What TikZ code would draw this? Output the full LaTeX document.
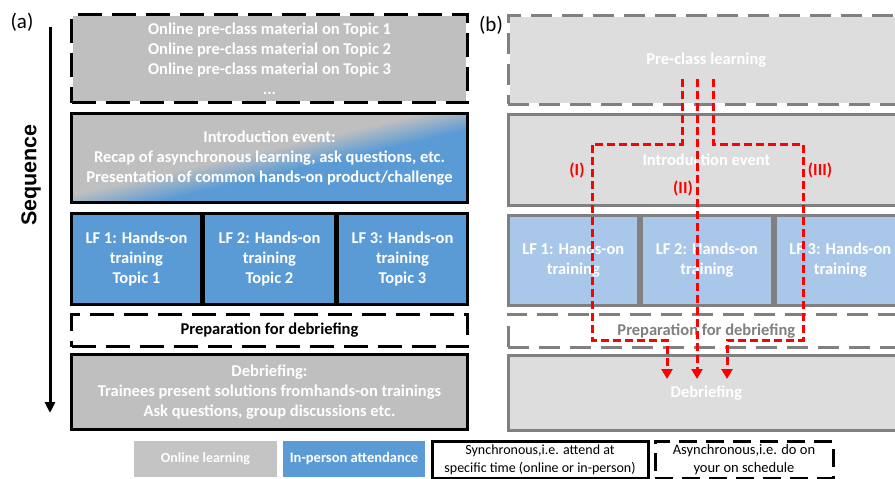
\documentclass[tikz,border=0pt]{standalone}
\usepackage{fontspec}
\setmainfont{Carlito}
\newfontfamily\seqfont{Liberation Sans}
\usetikzlibrary{arrows.meta}

\definecolor{agrey}{RGB}{191,191,191}
\definecolor{ablue}{RGB}{91,155,213}
\definecolor{bgrey}{RGB}{221,221,221}
\definecolor{bline}{RGB}{128,128,128}
\definecolor{bblue}{RGB}{169,199,232}
\definecolor{lgrey}{RGB}{196,196,196}
\definecolor{pathred}{RGB}{255,0,0}

\tikzset{
  boxtext/.style={font=\bfseries\fontsize{16.5}{20}\selectfont, align=center, text=white},
  abox/.style={draw=black, line width=3pt, inner sep=0pt, anchor=north west, boxtext},
  bbox/.style={draw=bline, line width=2.7pt, inner sep=0pt, anchor=north west, boxtext},
  dashbox/.style={preaction={fill=#1, draw=white, solid}, dash pattern=on 24pt off 10pt},
  redline/.style={draw=pathred, line width=3pt, dash pattern=on 8pt off 4pt,
    -{Triangle[length=10pt,width=11pt]}},
  redlabel/.style={font=\bfseries\fontsize{17}{19}\selectfont, text=pathred},
  legtext/.style={font=\fontsize{14}{18}\selectfont, align=center, inner sep=0pt},
  panellabel/.style={font=\fontsize{21}{24}\selectfont, inner sep=0pt}
}

\begin{document}
\begin{tikzpicture}[x=1pt, y=-1pt]
\useasboundingbox (0,0) rectangle (895,479);
\fill[white] (0,0) rectangle (895,479);

% ---------- panel (a) ----------
\node[panellabel] (la) at (22,22) {(a)};

\coordinate (seqtop) at (50,27);
\coordinate (seqbot) at (50,413);
\draw[line width=3pt, -{Triangle[length=11pt,width=10pt]}] (seqtop) -- (seqbot);
\node[font=\seqfont\bfseries\fontsize{21.5}{24}\selectfont, rotate=90, inner sep=0pt] (seq) at (31,175) {Sequence};

\node[abox, dashbox=agrey, minimum width=396, minimum height=88] (apre) at (70,13)
  {Online pre-class material on Topic 1\\Online pre-class material on Topic 2\\Online pre-class material on Topic 3\\...};

% diagonal grey-to-blue fill of the introduction event
\begin{scope}
  \clip (70,112) rectangle (466,201);
  \begin{scope}[transform canvas={shift={(270pt,-162pt)}, rotate=13}]
    \fill[agrey] (-300pt,0pt) rectangle (300pt,150pt);
    \fill[ablue] (-300pt,-150pt) rectangle (300pt,0pt);
    \shade[top color=agrey, bottom color=ablue] (-300pt,-13pt) rectangle (300pt,13pt);
  \end{scope}
\end{scope}
\node[abox, minimum width=396, minimum height=89] (aintro) at (70,112)
  {Introduction event:\\Recap of asynchronous learning, ask questions, etc.\\Presentation of common hands-on product/challenge};

\node[abox, fill=ablue, minimum width=130, minimum height=91] (alf1) at (70,212)
  {LF 1: Hands-on\\training\\Topic 1};
\node[abox, fill=ablue, minimum width=132, minimum height=91] (alf2) at (202,212)
  {LF 2: Hands-on\\training\\Topic 2};
\node[abox, fill=ablue, minimum width=130, minimum height=91] (alf3) at (336,212)
  {LF 3: Hands-on\\training\\Topic 3};

\node[abox, dashbox=white, minimum width=396, minimum height=32, text=black] (aprep) at (70,313)
  {Preparation for debriefing};

\node[abox, fill=agrey, minimum width=396, minimum height=75] (adeb) at (70,353)
  {Debriefing:\\Trainees present solutions fromhands-on trainings\\Ask questions, group discussions etc.};

% ---------- panel (b) ----------
\node[panellabel] (lb) at (491,25) {(b)};

\node[bbox, dashbox=bgrey, dash pattern=on 21pt off 10pt, minimum width=396, minimum height=89] (bpre) at (507,14)
  {Pre-class learning};
\node[bbox, fill=bgrey, minimum width=396, minimum height=91] (bintro) at (507,113)
  {Introduction event};
\node[bbox, fill=bblue, minimum width=130, minimum height=90] (blf1) at (507,214)
  {LF 1: Hands-on\\training};
\node[bbox, fill=bblue, minimum width=131, minimum height=90] (blf2) at (640,214)
  {LF 2: Hands-on\\training};
\node[bbox, fill=bblue, minimum width=130, minimum height=90] (blf3) at (774,214)
  {LF 3: Hands-on\\training};
\node[bbox, dashbox=white, dash pattern=on 21pt off 10pt, minimum width=396, minimum height=33, text=bline] (bprep) at (507,313)
  {Preparation for debriefing};
\node[bbox, fill=bgrey, minimum width=396, minimum height=75] (bdeb) at (507,354)
  {Debriefing};

% three learning paths from pre-class learning to the debriefing
\coordinate (s1) at (682,79);
\coordinate (s2) at (697,79);
\coordinate (s3) at (713,79);
\coordinate (e1) at (667,379);
\coordinate (e2) at (697,379);
\coordinate (e3) at (727,379);
\draw[redline] (s1) -- ++(0,65) -| (592,340) -| (e1);
\draw[redline] (s2) -- (e2);
\draw[redline] (s3) -- ++(0,65) -| (803,340) -| (e3);

\node[redlabel] (pI) at (577,170) {(I)};
\node[redlabel] (pII) at (683,188) {(II)};
\node[redlabel] (pIII) at (820,170) {(III)};

% ---------- legend ----------
\node[legtext, fill=lgrey, text=white, font=\bfseries\fontsize{14}{18}\selectfont,
  minimum width=143, minimum height=36] (lonline) at (205.5,459) {Online learning};
\node[legtext, fill=ablue, text=white, font=\bfseries\fontsize{14.5}{18}\selectfont,
  minimum width=142, minimum height=36] (lperson) at (354,459) {In-person attendance};
\node[legtext, draw=black, line width=3pt, minimum width=216, minimum height=37] (lsync) at (540,459.5)
  {Synchronous,i.e. attend at\\specific time (online or in-person)};
\node[legtext, font=\fontsize{14.5}{18}\selectfont, draw=black, line width=3pt, dash pattern=on 18pt off 9pt,
  minimum width=178, minimum height=37] (lasync) at (744,459.5)
  {Asynchronous,i.e. do on\\your on schedule};
\end{tikzpicture}
\end{document}
